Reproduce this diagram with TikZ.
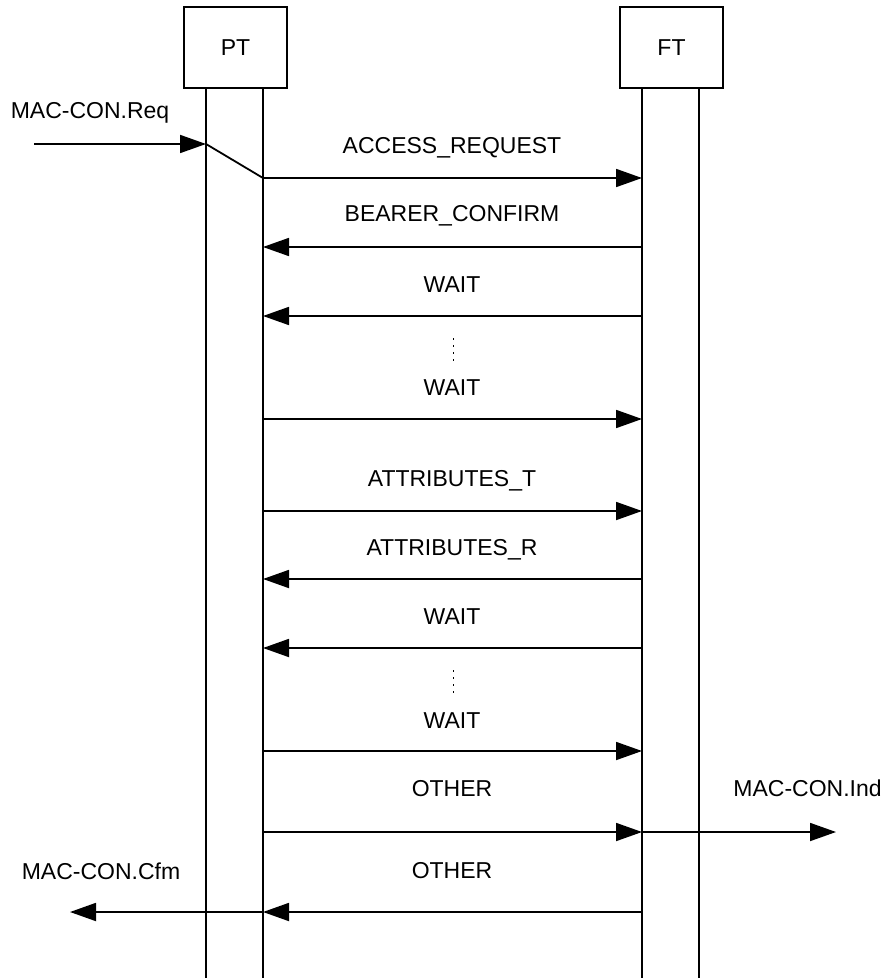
\documentclass[tikz,border=0pt]{standalone}
\usepackage{fontspec}
\setmainfont{Liberation Sans}
\usetikzlibrary{arrows.meta}
\begin{document}
\begin{tikzpicture}[x=0.5pt,y=-0.5pt,
  every node/.style={font=\fontsize{11.5}{13}\selectfont, inner sep=0pt},
  entity/.style={draw, line width=0.8pt, minimum width=51.5pt, minimum height=40.5pt},
  life/.style={line width=1pt},
  msg/.style={line width=0.9pt, -{Triangle[length=13pt,width=9pt]}},
  lbl/.style={anchor=center},
  dots/.style={line width=0.5pt, dash pattern=on 1pt off 2.5pt}]
\useasboundingbox (0,0) rectangle (885,978);
% entities
\node[entity] (PT) at (235.5,47.5) {PT};
\node[entity] (FT) at (671.5,47.5) {FT};
% lifelines
\coordinate (pa0) at (206,88); \coordinate (pa1) at (206,978);
\coordinate (pb0) at (263,88); \coordinate (pb1) at (263,978);
\coordinate (fa0) at (642,88); \coordinate (fa1) at (642,978);
\coordinate (fb0) at (699,88); \coordinate (fb1) at (699,978);
\draw[life] (pa0) -- (pa1);
\draw[life] (pb0) -- (pb1);
\draw[life] (fa0) -- (fa1);
\draw[life] (fb0) -- (fb1);
% MAC-CON.Req
\node[lbl] (req) at (90,113) {MAC-CON.Req};
\coordinate (reqs) at (34,144);
\coordinate (reqe) at (206,144);
\coordinate (m1p) at (263,178);
\coordinate (m1f) at (642,178);
\draw[msg] (reqs) -- (reqe);
\draw[line width=0.9pt] (reqe) -- (m1p);
% messages
\node[lbl] (t1) at (452,148) {ACCESS\_REQUEST};
\draw[msg] (m1p) -- (m1f);
\coordinate (m2p) at (263,247); \coordinate (m2f) at (642,247);
\node[lbl] (t2) at (452,216) {BEARER\_CONFIRM};
\draw[msg] (m2f) -- (m2p);
\coordinate (m3p) at (263,316); \coordinate (m3f) at (642,316);
\node[lbl] (t3) at (452,285) {WAIT};
\draw[msg] (m3f) -- (m3p);
\coordinate (d1a) at (453,338); \coordinate (d1b) at (453,362);
\draw[dots] (d1a) -- (d1b);
\coordinate (m4p) at (263,419); \coordinate (m4f) at (642,419);
\node[lbl] (t4) at (452,388) {WAIT};
\draw[msg] (m4p) -- (m4f);
\coordinate (m5p) at (263,511); \coordinate (m5f) at (642,511);
\node[lbl] (t5) at (452,481) {ATTRIBUTES\_T};
\draw[msg] (m5p) -- (m5f);
\coordinate (m6p) at (263,579); \coordinate (m6f) at (642,579);
\node[lbl] (t6) at (452,550) {ATTRIBUTES\_R};
\draw[msg] (m6f) -- (m6p);
\coordinate (m7p) at (263,648); \coordinate (m7f) at (642,648);
\node[lbl] (t7) at (452,617) {WAIT};
\draw[msg] (m7f) -- (m7p);
\coordinate (d2a) at (453,670); \coordinate (d2b) at (453,694);
\draw[dots] (d2a) -- (d2b);
\coordinate (m8p) at (263,751); \coordinate (m8f) at (642,751);
\node[lbl] (t8) at (452,721) {WAIT};
\draw[msg] (m8p) -- (m8f);
\coordinate (m9p) at (263,832); \coordinate (m9f) at (642,832);
\node[lbl] (t9) at (452,789) {OTHER};
\draw[msg] (m9p) -- (m9f);
\coordinate (inde) at (836,832);
\node[anchor=west] (ind) at (733,788) {MAC-CON.Ind};
\draw[msg] (m9f) -- (inde);
\coordinate (m10p) at (263,912); \coordinate (m10f) at (642,912);
\node[lbl] (t10) at (452,871) {OTHER};
\draw[msg] (m10f) -- (m10p);
\coordinate (cfme) at (70,912);
\node[lbl] (cfm) at (101,871) {MAC-CON.Cfm};
\draw[msg] (m10p) -- (cfme);
\end{tikzpicture}
\end{document}
